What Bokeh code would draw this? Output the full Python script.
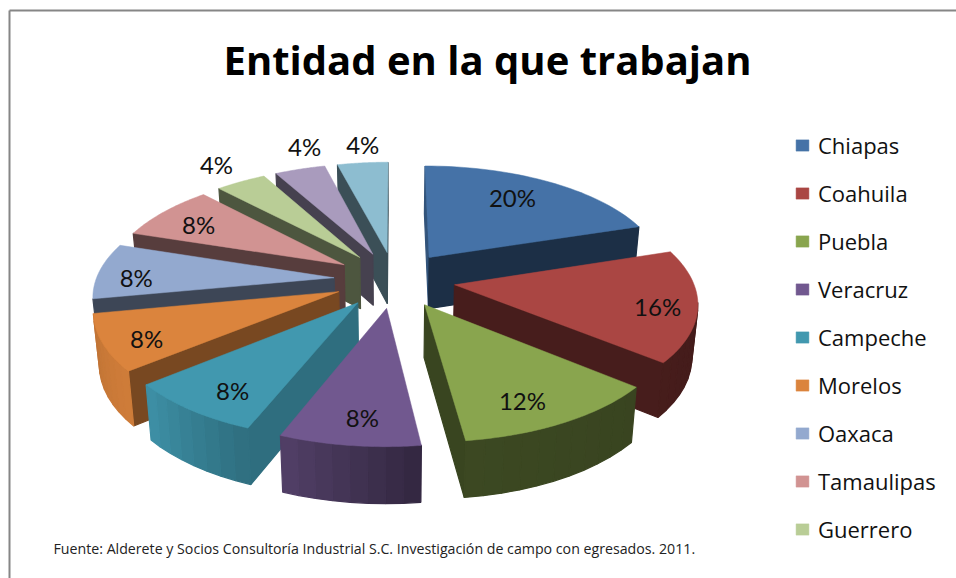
import math
from bokeh.plotting import figure
from bokeh.models import Legend, LegendItem
from bokeh.core.properties import value
from bokeh.embed import file_html
from bokeh.resources import INLINE

title = "Entidad en la que trabajan"
source_note = "Fuente: Alderete y Socios Consultoría Industrial S.C. Investigación de campo con egresados. 2011."
states = ["Chiapas", "Coahuila", "Puebla", "Veracruz", "Campeche", "Morelos", "Oaxaca", "Tamaulipas", "Guerrero", "Hidalgo", "Sonora"]
shares = [20, 16, 12, 8, 8, 8, 8, 8, 4, 4, 4]
legend_count = 9
colors = ["#4572A7", "#AA4643", "#89A54E", "#71588F", "#4198AF", "#DB843D", "#93A9CF", "#D19392", "#B9CD96", "#A99BBD", "#8DBDD0"]
label_radius = [0.745, 0.84, 0.806, 0.818, 0.812, 0.835, 0.833, 0.781, 1.251, 1.27, 1.236]
label_angle = [32.8, 103, 154.8, 185.8, 213.3, 242.1, 270, 301, 324.5, 343.5, 354]

# projection of the tilted, exploded pie
CX, CY, DX, DY, B, EXPLODE, H = 394, 279, 238, 110, 0.14, 0.255, 52


def project(X, Y, drop=False):
    w = 1 + B * Y
    x = CX + DX * X / w
    y = CY - DY * Y / w
    if drop:
        x = CX + (x - CX) * 0.98
        y = y + H / (1 + 0.07 * Y)
    return x, y


def shade(hex_color, f):
    r, g, b = (int(hex_color[i:i + 2], 16) for i in (1, 3, 5))
    return "#%02x%02x%02x" % (int(r * f), int(g * f), int(b * f))


def interp(t, stops):
    if t <= stops[0][0]:
        return stops[0][1]
    for (a, fa), (b, fb) in zip(stops, stops[1:]):
        if t <= b:
            return fa + (fb - fa) * (t - a) / (b - a)
    return stops[-1][1]


OUTER = [(100, 0.40), (172, 0.44), (201, 0.72), (230, 0.95), (260, 0.88)]
RADIAL = [(200, 0.74), (230, 0.55), (259, 0.42)]

p = figure(width=956, height=578, x_range=(0, 956), y_range=(578, 0),
           output_backend="svg", toolbar_location=None, min_border=0,
           outline_line_color=None, background_fill_color="white")
p.xaxis.visible = False
p.yaxis.visible = False
p.grid.visible = False

p.segment(x0=[9, 9], y0=[10, 10], x1=[9, 956], y1=[578, 10], line_color="#868686", line_width=2)

total = sum(shares)
slices = []
start = 0.0
for i, s in enumerate(shares):
    end = start + 360.0 * s / total
    mid = math.radians((start + end) / 2)
    slices.append((i, start, end, EXPLODE * math.sin(mid), EXPLODE * math.cos(mid)))
    start = end

top_renderers = {}
for i, a0, a1, ex, ey in sorted(slices, key=lambda t: -t[4]):
    n = max(2, int((a1 - a0) / 4) + 1)
    angles = [a0 + (a1 - a0) * k / n for k in range(n + 1)]
    rim = [(ex + math.sin(math.radians(t)), ey + math.cos(math.radians(t))) for t in angles]
    apex = (ex, ey)

    xs, ys, fills = [], [], []

    def wall(P, Q, color):
        x0, y0 = project(*P)
        x1, y1 = project(*Q)
        if x1 >= x0:
            return
        x2, y2 = project(*Q, drop=True)
        x3, y3 = project(*P, drop=True)
        xs.append([x0, x1, x2, x3])
        ys.append([y0, y1, y2, y3])
        fills.append(color)

    wall(apex, rim[0], shade(colors[i], interp(a0, RADIAL)))
    wall(rim[-1], apex, shade(colors[i], 0.42))
    for k in range(n):
        wall(rim[k], rim[k + 1], shade(colors[i], interp((angles[k] + angles[k + 1]) / 2, OUTER)))
    if xs:
        p.patches(xs, ys, fill_color=fills, line_color=fills, line_width=1.2)

    # finer rim for the top face
    fine = [a0 + (a1 - a0) * k / 40 for k in range(41)]
    pts = [apex] + [(ex + math.sin(math.radians(t)), ey + math.cos(math.radians(t))) for t in fine]
    proj = [project(*q) for q in pts]
    top_renderers[i] = p.patch([q[0] for q in proj], [q[1] for q in proj],
                               fill_color=colors[i], line_color=colors[i], line_width=0.5)

lx, ly = [], []
for (i, a0, a1, ex, ey), r, a in zip(slices, label_radius, label_angle):
    m = math.radians(a)
    x, y = project(ex + r * math.sin(m), ey + r * math.cos(m))
    lx.append(x)
    ly.append(y)
p.text(lx, ly, text=["%d%%" % s for s in shares], text_font=value("Lato"), text_font_size="24px",
       text_color="#111111", text_align="center", text_baseline="middle")

p.text([487], [59], text=[title], text_font=value("Open Sans"), text_font_style="bold", text_font_size="40px",
       text_color="#000000", text_align="center", text_baseline="middle")
p.text([53], [547.5], text=[source_note], text_font=value("Open Sans"), text_font_size="14.2px",
       text_color="#222222", text_align="left", text_baseline="middle")

legend = Legend(items=[LegendItem(label=states[i], renderers=[top_renderers[i]]) for i in range(legend_count)],
                location=(794, 34), orientation="vertical", margin=0, padding=0, spacing=18,
                glyph_width=16, glyph_height=14, label_standoff=8, label_height=24,
                label_text_font="Open Sans", label_text_font_size="22px", label_text_color="#111111",
                background_fill_alpha=0, border_line_color=None)
p.add_layout(legend)

open("out.html", "w").write(file_html(p, INLINE))
